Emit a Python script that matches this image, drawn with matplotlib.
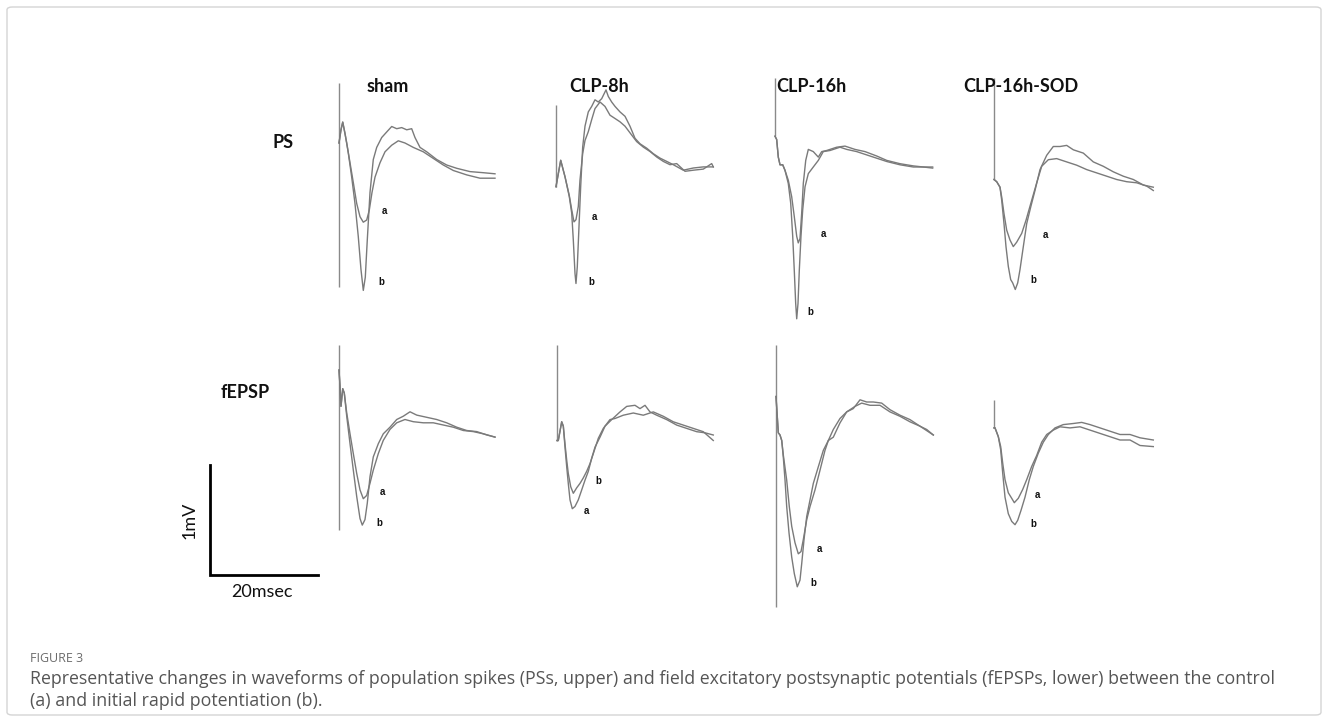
import matplotlib
matplotlib.use("Agg")
import matplotlib.pyplot as plt
from matplotlib.patches import FancyBboxPatch

# ---------------- data (time in ms, voltage in mV) ----------------
groups = ["sham", "CLP-8h", "CLP-16h", "CLP-16h-SOD"]
rows = ["PS", "fEPSP"]
scale_ms = 20
scale_mV = 1

# stimulus artefact extent (mV) per panel: PS row then fEPSP row
artifact_top = [0.85, 0.57, 0.81, 0.97, 0.83, 0.82, 0.82, 0.36]
artifact_bottom = [-1.01, -0.17, 0.28, 0.05, -0.85, -0.05, -1.56, 0.11]

# --- PS, sham
sham_ps_a_t = [0.0, 0.37, 0.69, 1.43, 2.04, 2.65, 3.28, 3.89, 4.50, 5.13, 5.61, 6.11, 6.67, 7.59, 8.52, 9.76, 10.98, 12.22, 13.76, 15.61, 17.46, 19.31, 21.17, 23.65, 26.11, 28.89]
sham_ps_a_v = [0.30, 0.42, 0.49, 0.30, 0.12, -0.06, -0.25, -0.37, -0.42, -0.40, -0.31, -0.15, -0.01, 0.12, 0.22, 0.28, 0.32, 0.30, 0.26, 0.22, 0.16, 0.10, 0.05, 0.01, -0.02, -0.02]
sham_ps_b_t = [0.0, 0.37, 0.69, 1.11, 1.72, 2.35, 2.96, 3.57, 4.07, 4.50, 4.87, 5.24, 5.74, 6.35, 6.98, 7.91, 8.83, 9.76, 10.69, 11.61, 12.54, 13.46, 14.07, 15.0, 16.24, 18.09, 19.94, 21.8, 24.26, 26.72, 28.89]
sham_ps_b_v = [0.30, 0.42, 0.49, 0.39, 0.21, -0.01, -0.25, -0.55, -0.85, -1.04, -0.92, -0.58, -0.15, 0.15, 0.26, 0.35, 0.40, 0.45, 0.43, 0.44, 0.42, 0.43, 0.35, 0.26, 0.22, 0.15, 0.10, 0.07, 0.04, 0.03, 0.02]

# --- PS, CLP-8h
clp8_ps_a_t = [0.0, 0.87, 1.67, 2.46, 2.91, 3.33, 3.70, 4.13, 4.44, 4.94, 5.37, 5.98, 6.61, 7.22, 8.15, 9.07, 10.0, 10.93, 11.85, 12.78, 13.70, 14.94, 16.17, 17.41, 18.65, 19.87, 21.11, 22.35, 23.89, 25.43, 27.28, 28.83, 29.13]
clp8_ps_a_v = [-0.17, 0.07, -0.08, -0.25, -0.38, -0.49, -0.47, -0.35, -0.11, 0.13, 0.25, 0.33, 0.44, 0.54, 0.60, 0.56, 0.48, 0.45, 0.42, 0.38, 0.32, 0.24, 0.19, 0.15, 0.10, 0.06, 0.03, 0.04, -0.03, -0.02, -0.01, 0.04, 0.01]
clp8_ps_b_t = [0.0, 0.87, 1.67, 2.46, 2.91, 3.20, 3.52, 3.70, 3.94, 4.26, 4.57, 4.94, 5.37, 5.98, 6.61, 7.22, 7.83, 8.46, 9.26, 9.69, 10.31, 10.93, 11.85, 12.78, 13.70, 14.63, 15.56, 16.80, 18.02, 19.26, 20.50, 21.72, 23.57, 25.43, 27.28, 29.13]
clp8_ps_b_v = [-0.17, 0.07, -0.08, -0.26, -0.41, -0.65, -0.96, -1.05, -0.90, -0.53, -0.17, 0.19, 0.38, 0.51, 0.56, 0.62, 0.60, 0.63, 0.71, 0.65, 0.60, 0.56, 0.51, 0.47, 0.38, 0.27, 0.22, 0.18, 0.13, 0.09, 0.06, 0.03, -0.02, 0.00, 0.01, 0.01]

# --- PS, CLP-16h
clp16_ps_a_t = [0.0, 0.31, 0.61, 0.93, 1.43, 1.85, 2.46, 3.09, 3.57, 4.02, 4.31, 4.63, 4.94, 5.24, 5.69, 6.17, 7.09, 8.02, 8.65, 9.57, 11.43, 12.96, 14.81, 16.67, 18.83, 20.69, 23.15, 25.61, 27.46, 29.20]
clp16_ps_a_v = [0.28, 0.25, 0.09, 0.02, 0.02, -0.03, -0.12, -0.27, -0.45, -0.63, -0.69, -0.65, -0.42, -0.15, 0.06, 0.16, 0.14, 0.09, 0.14, 0.15, 0.18, 0.19, 0.16, 0.14, 0.10, 0.06, 0.03, 0.01, 0.00, 0.00]
clp16_ps_b_t = [0.0, 0.31, 0.61, 0.93, 1.43, 1.85, 2.46, 2.91, 3.28, 3.57, 3.83, 4.02, 4.26, 4.50, 4.81, 5.13, 5.56, 6.17, 7.09, 8.02, 8.94, 10.19, 12.04, 13.28, 15.13, 16.98, 18.83, 20.69, 23.15, 25.61, 27.46, 29.20]
clp16_ps_b_v = [0.28, 0.25, 0.09, 0.02, 0.02, -0.03, -0.15, -0.33, -0.63, -0.94, -1.24, -1.38, -1.24, -0.94, -0.63, -0.39, -0.18, -0.06, 0.00, 0.06, 0.14, 0.15, 0.18, 0.16, 0.14, 0.11, 0.08, 0.05, 0.02, 0.00, 0.00, -0.01]

# --- PS, CLP-16h-SOD
sod_ps_a_t = [0.0, 0.50, 1.11, 1.43, 1.85, 2.35, 2.96, 3.57, 4.20, 5.13, 5.93, 6.80, 7.91, 8.83, 10.06, 11.61, 13.46, 15.32, 17.17, 19.02, 20.87, 22.72, 24.57, 26.43, 28.28, 29.50]
sod_ps_a_v = [0.05, 0.03, -0.02, -0.11, -0.26, -0.41, -0.50, -0.56, -0.52, -0.44, -0.32, -0.17, 0.02, 0.17, 0.23, 0.24, 0.21, 0.18, 0.14, 0.11, 0.08, 0.05, 0.03, 0.02, -0.01, -0.05]
sod_ps_b_t = [0.0, 0.50, 1.11, 1.43, 1.85, 2.22, 2.65, 3.09, 3.46, 3.94, 4.39, 4.81, 5.43, 6.06, 6.80, 7.59, 8.52, 9.76, 10.98, 12.22, 13.46, 14.69, 16.54, 18.39, 20.24, 22.09, 23.94, 25.80, 27.65, 29.50]
sod_ps_b_v = [0.05, 0.03, -0.02, -0.14, -0.35, -0.56, -0.74, -0.86, -0.89, -0.95, -0.89, -0.77, -0.56, -0.35, -0.20, -0.05, 0.14, 0.27, 0.35, 0.35, 0.36, 0.32, 0.29, 0.21, 0.17, 0.12, 0.08, 0.05, 0.00, -0.02]

# --- fEPSP, sham
sham_fe_a_t = [0.0, 0.19, 0.37, 0.69, 0.98, 1.43, 2.04, 2.65, 3.28, 3.89, 4.50, 5.13, 5.74, 6.35, 7.28, 8.20, 9.44, 10.69, 12.22, 13.76, 15.61, 17.46, 19.31, 21.17, 23.02, 24.87, 26.72, 28.89]
sham_fe_a_v = [0.60, 0.45, 0.27, 0.43, 0.39, 0.21, 0.02, -0.16, -0.34, -0.49, -0.57, -0.54, -0.43, -0.31, -0.16, -0.04, 0.06, 0.12, 0.15, 0.13, 0.12, 0.12, 0.10, 0.08, 0.05, 0.04, 0.02, -0.01]
sham_fe_b_t = [0.0, 0.19, 0.37, 0.69, 0.98, 1.43, 2.04, 2.65, 3.28, 3.89, 4.31, 4.81, 5.24, 5.74, 6.35, 7.28, 8.20, 9.44, 10.69, 11.91, 13.15, 14.39, 16.24, 18.09, 19.94, 21.80, 23.65, 25.50, 27.35, 28.89]
sham_fe_b_v = [0.60, 0.45, 0.27, 0.43, 0.39, 0.18, -0.07, -0.31, -0.55, -0.75, -0.81, -0.76, -0.61, -0.37, -0.19, -0.07, 0.02, 0.08, 0.15, 0.18, 0.22, 0.19, 0.17, 0.15, 0.12, 0.08, 0.05, 0.04, 0.01, -0.01]

# --- fEPSP, CLP-8h
clp8_fe_a_t = [0.0, 0.24, 0.87, 1.17, 1.48, 1.80, 2.09, 2.41, 2.83, 3.33, 3.94, 4.57, 5.19, 5.80, 6.43, 7.04, 7.96, 8.89, 10.13, 11.67, 12.91, 14.44, 15.37, 16.30, 17.22, 18.46, 20.31, 22.17, 24.02, 25.87, 27.41, 28.94]
clp8_fe_a_v = [-0.05, -0.05, 0.12, 0.08, -0.11, -0.29, -0.44, -0.59, -0.67, -0.65, -0.59, -0.50, -0.41, -0.33, -0.21, -0.11, -0.02, 0.08, 0.14, 0.21, 0.26, 0.27, 0.24, 0.27, 0.21, 0.18, 0.14, 0.09, 0.06, 0.03, 0.02, 0.00]
clp8_fe_b_t = [0.0, 0.24, 0.87, 1.17, 1.48, 1.80, 2.09, 2.54, 3.02, 3.65, 4.26, 4.87, 5.50, 6.11, 6.72, 7.65, 8.57, 9.81, 10.74, 12.28, 14.13, 15.98, 17.83, 19.69, 21.54, 23.39, 25.24, 27.09, 28.94]
clp8_fe_b_v = [-0.05, -0.05, 0.12, 0.08, -0.08, -0.23, -0.35, -0.47, -0.53, -0.48, -0.44, -0.39, -0.33, -0.26, -0.17, -0.03, 0.06, 0.14, 0.15, 0.18, 0.20, 0.18, 0.21, 0.17, 0.12, 0.09, 0.06, 0.03, -0.05]

# --- fEPSP, CLP-16h
clp16_fe_a_t = [0.0, 0.43, 0.74, 1.06, 1.35, 1.98, 2.46, 2.91, 3.52, 4.13, 4.63, 5.06, 5.69, 6.30, 7.22, 8.15, 9.07, 9.69, 10.61, 11.85, 13.09, 14.63, 15.87, 17.41, 19.26, 21.11, 22.96, 24.81, 26.67, 29.13]
clp16_fe_a_v = [0.35, 0.02, 0.00, -0.05, -0.18, -0.41, -0.65, -0.83, -0.98, -1.08, -1.06, -0.95, -0.77, -0.65, -0.50, -0.32, -0.14, -0.05, 0.05, 0.15, 0.21, 0.26, 0.29, 0.27, 0.27, 0.21, 0.17, 0.12, 0.08, 0.00]
clp16_fe_b_t = [0.0, 0.43, 0.74, 1.06, 1.35, 1.67, 1.98, 2.41, 2.91, 3.39, 3.94, 4.44, 4.76, 5.19, 5.69, 6.30, 6.91, 7.83, 8.76, 9.69, 10.61, 11.85, 13.09, 14.31, 15.56, 16.80, 18.02, 19.57, 21.11, 22.96, 24.81, 26.67, 27.91, 29.13]
clp16_fe_b_v = [0.35, 0.02, 0.00, -0.05, -0.20, -0.41, -0.65, -0.89, -1.11, -1.26, -1.38, -1.32, -1.17, -0.95, -0.74, -0.59, -0.44, -0.29, -0.14, -0.05, -0.02, 0.11, 0.21, 0.24, 0.32, 0.30, 0.30, 0.29, 0.23, 0.18, 0.14, 0.08, 0.05, 0.00]

# --- fEPSP, CLP-16h-SOD
sod_fe_a_t = [0.0, 0.19, 0.80, 1.24, 1.61, 2.04, 2.65, 3.28, 3.76, 4.50, 5.31, 6.06, 6.98, 7.91, 8.83, 9.76, 10.98, 12.22, 14.07, 15.93, 17.78, 19.63, 21.48, 23.33, 25.19, 27.04, 29.50]
sod_fe_a_v = [0.11, 0.11, 0.03, -0.06, -0.21, -0.36, -0.48, -0.53, -0.57, -0.53, -0.45, -0.36, -0.24, -0.14, -0.02, 0.05, 0.09, 0.12, 0.11, 0.12, 0.09, 0.06, 0.03, 0.00, 0.00, -0.05, -0.06]
sod_fe_b_t = [0.0, 0.19, 0.80, 1.24, 1.61, 2.04, 2.65, 3.28, 3.89, 4.39, 5.00, 5.74, 6.54, 7.28, 8.20, 9.13, 10.06, 11.30, 12.83, 14.69, 16.24, 17.78, 19.63, 21.48, 23.33, 25.19, 27.04, 29.50]
sod_fe_b_v = [0.11, 0.11, 0.03, -0.09, -0.30, -0.52, -0.67, -0.74, -0.77, -0.73, -0.64, -0.52, -0.36, -0.24, -0.12, -0.02, 0.05, 0.11, 0.14, 0.15, 0.16, 0.14, 0.11, 0.08, 0.05, 0.05, 0.02, 0.00]

caption_label = "FIGURE 3"
caption_text = ("Representative changes in waveforms of population spikes (PSs, upper) and field excitatory "
                "postsynaptic potentials (fEPSPs, lower) between the control\n"
                "(a) and initial rapid potentiation (b).")

# ---------------- layout ----------------
W, H = 1328, 722
PX_PER_MS = 5.4
PX_PER_MV = 110.0

fig = plt.figure(figsize=(W / 100, H / 100), dpi=100)
fig.patch.set_facecolor("white")

def px_axes(x0, y0, left, right, up, down):
    ax = fig.add_axes([(x0 - left) / W, (H - (y0 + down)) / H, (left + right) / W, (up + down) / H])
    ax.set_xlim(-left / PX_PER_MS, right / PX_PER_MS)
    ax.set_ylim(-down / PX_PER_MV, up / PX_PER_MV)
    ax.axis("off")
    ax.patch.set_alpha(0)
    return ax

panel_origins = [(339, 176), (556, 168), (775, 167), (994, 185),
                 (339, 436), (557, 435), (776, 435), (994, 440)]
traces = [
    (sham_ps_a_t, sham_ps_a_v, sham_ps_b_t, sham_ps_b_v),
    (clp8_ps_a_t, clp8_ps_a_v, clp8_ps_b_t, clp8_ps_b_v),
    (clp16_ps_a_t, clp16_ps_a_v, clp16_ps_b_t, clp16_ps_b_v),
    (sod_ps_a_t, sod_ps_a_v, sod_ps_b_t, sod_ps_b_v),
    (sham_fe_a_t, sham_fe_a_v, sham_fe_b_t, sham_fe_b_v),
    (clp8_fe_a_t, clp8_fe_a_v, clp8_fe_b_t, clp8_fe_b_v),
    (clp16_fe_a_t, clp16_fe_a_v, clp16_fe_b_t, clp16_fe_b_v),
    (sod_fe_a_t, sod_fe_a_v, sod_fe_b_t, sod_fe_b_v),
]
label_pos = [((8.5, -0.32), (7.8, -0.96)), ((7.2, -0.45), (6.5, -1.04)),
             ((8.9, -0.61), (6.5, -1.32)), ((9.6, -0.45), (7.2, -0.86)),
             ((8.0, -0.51), (7.4, -0.79)), ((5.4, -0.69), (7.6, -0.42)),
             ((8.1, -1.04), (6.9, -1.35)), ((8.1, -0.50), (7.2, -0.76))]

trace_color = "#7a7a7a"
for i, ((x0, y0), (ta, va, tb, vb)) in enumerate(zip(panel_origins, traces)):
    ax = px_axes(x0, y0, 10, 180, 120, 190)
    ax.plot([0, 0], [artifact_bottom[i], artifact_top[i]], color="#8a8a8a", lw=1.0,
            solid_capstyle="butt")
    ax.plot(ta, va, color=trace_color, lw=1.0)
    ax.plot(tb, vb, color=trace_color, lw=1.0)
    (lax, lay), (lbx, lby) = label_pos[i]
    ax.text(lax, lay, "a", ha="center", va="center", fontsize=7, fontweight="bold",
            family="Liberation Sans", color="#111111")
    ax.text(lbx, lby, "b", ha="center", va="center", fontsize=7, fontweight="bold",
            family="Liberation Sans", color="#111111")

# scale bar
sb = px_axes(210, 575, 5, 130, 130, 5)
sb.plot([0, 0, scale_ms], [scale_mV, 0, 0], color="black", lw=2.0, solid_joinstyle="miter")

def ftext(x, y, s, **kw):
    fig.text(x / W, 1 - y / H, s, **kw)

title_font = dict(family=["Lato", "DejaVu Sans"], fontweight="bold", fontsize=13, color="#111111",
                  ha="center", va="center")
for g, xc in zip(groups, [388, 599, 811, 1021]):
    ftext(xc, 86, g, **title_font)
ftext(283, 143, rows[0], **title_font)
ftext(245, 392, rows[1], **title_font)

ftext(190, 520, "1mV", family=["Lato"], fontsize=13, rotation=90, ha="center", va="center", color="#111111")
ftext(262, 592, "20msec", family=["Lato"], fontsize=13, ha="center", va="center", color="#111111")

ftext(30, 658, caption_label, family=["Open Sans"], fontsize=9, color="#6b6b6b", ha="left", va="center")
ftext(30, 690, caption_text, family=["Open Sans"], fontsize=12.8, color="#555555", ha="left", va="center",
      linespacing=1.35)

frame = FancyBboxPatch((7 / W, 7 / H), (W - 14) / W, (H - 14) / H,
                       boxstyle="round,pad=0,rounding_size=0.004", transform=fig.transFigure,
                       fill=False, edgecolor="#d4d4d4", lw=1.0)
fig.patches.append(frame)

fig.savefig("out.png", dpi=100)
